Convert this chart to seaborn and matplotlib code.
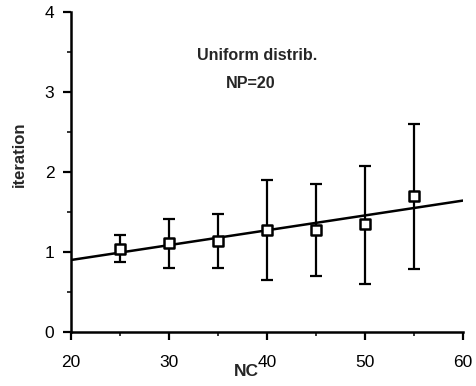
import matplotlib
matplotlib.use("Agg")
import matplotlib.pyplot as plt
import seaborn as sns
import numpy as np
import pandas as pd
from matplotlib.ticker import MultipleLocator

nc = [25, 30, 35, 40, 45, 50, 55]
mean_iter = [1.04, 1.11, 1.14, 1.28, 1.28, 1.35, 1.70]
upper_iter = [1.21, 1.41, 1.48, 1.90, 1.85, 2.08, 2.60]
lower_iter = [0.87, 0.80, 0.80, 0.65, 0.70, 0.60, 0.79]
x_ticks = [20, 30, 40, 50, 60]
y_ticks = [0, 1, 2, 3, 4]

df = pd.DataFrame({"NC": nc, "iteration": mean_iter})

sns.set_theme(style="ticks")
plt.rcParams['font.family'] = ['Liberation Sans', 'DejaVu Sans']

fig = plt.figure(figsize=(4.76, 3.86), dpi=100)
ax = fig.add_axes([71/476, 1-332/386, (463-71)/476, (332-12)/386])
ax.set_xlim(20, 60)
ax.set_ylim(0, 4)

sns.regplot(data=df, x="NC", y="iteration", ax=ax, scatter=False, ci=None,
            truncate=False, color="black", line_kws={"linewidth": 1.8})

yerr = [np.array(mean_iter) - np.array(lower_iter), np.array(upper_iter) - np.array(mean_iter)]
ax.errorbar(nc, mean_iter, yerr=yerr, fmt="none", ecolor="black", elinewidth=1.6,
            capsize=4, capthick=1.6, zorder=3)
sns.scatterplot(data=df, x="NC", y="iteration", ax=ax, marker="s", s=42,
                facecolor="white", edgecolor="black", linewidth=1.8, zorder=4)

ax.set_xlim(20, 60)
ax.set_ylim(0, 4)
ax.set_xticks(x_ticks)
ax.set_yticks(y_ticks)
ax.xaxis.set_minor_locator(MultipleLocator(5))
ax.yaxis.set_minor_locator(MultipleLocator(0.5))
ax.tick_params(axis="both", which="major", direction="out", length=6, width=1.6,
               labelsize=12.5, colors="black")
ax.tick_params(axis="x", which="major", pad=10.5)
ax.tick_params(axis="y", which="major", pad=6)
ax.tick_params(axis="both", which="minor", direction="out", length=3, width=1.3)
for s in ["top", "right"]:
    ax.spines[s].set_visible(False)
for s in ["left", "bottom"]:
    ax.spines[s].set_linewidth(1.8)
    ax.spines[s].set_color("black")

ax.set_xlabel("")
ax.set_ylabel("iteration", fontsize=12, fontweight="bold")
ax.yaxis.set_label_coords((27 - 71) / 392, (332 - 154) / 320)
fig.text(246/476, 1-371/386, "NC", ha="center", va="center", fontsize=12.5, fontweight="bold")

fig.text(257/476, 1-55/386, "Uniform distrib.", ha="center", va="center",
         fontsize=11.6, fontweight="bold")
fig.text(251/476, 1-83/386, "NP=20", ha="center", va="center",
         fontsize=11.6, fontweight="bold")

fig.savefig("out.png", dpi=100)
